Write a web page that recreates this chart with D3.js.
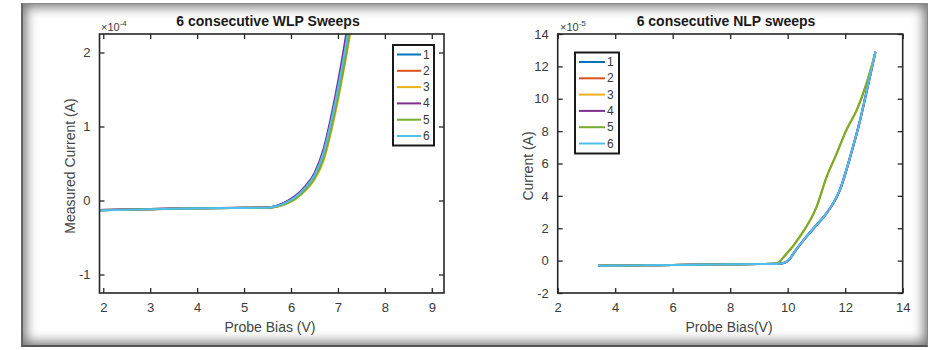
<!DOCTYPE html>
<html><head><meta charset="utf-8">
<script src="https://cdn.jsdelivr.net/npm/d3@7"></script>
<style>
body{margin:0;background:#fff;}
#frame{position:absolute;left:21px;top:3px;width:907px;height:344px;box-shadow:inset 0 0 12px 3px rgba(0,0,0,0.55);border-left:2px solid #666;border-top:1px solid #888;border-bottom:2px solid #555;border-right:1px solid #888;box-sizing:border-box;}
svg{position:absolute;left:0;top:0;}
text{font-family:"Liberation Sans",Arial,sans-serif;}
</style></head><body>
<div id="frame"></div>
<svg id="chart" width="932" height="350"></svg>
<script>
// ---------- DATA ----------
const seriesNames = ["1","2","3","4","5","6"];
const seriesColors = ["#0072BD","#D95319","#EDB120","#7E2F8E","#77AC30","#4DBEEE"];

// WLP sweeps (x in V, y in 1e-4 A)
const wlpX = [1.9, 2.5, 3.0, 3.5, 4.0, 4.5, 5.0, 5.5, 5.7, 5.9, 6.1, 6.3, 6.5, 6.7, 6.9, 7.1, 7.3, 7.5];
const wlp1 = [-0.13, -0.122, -0.116, -0.11, -0.105, -0.102, -0.099, -0.096, -0.072, -0.02, 0.055, 0.175, 0.35, 0.68, 1.22, 1.88, 2.65, 3.4];
const wlp2 = [-0.13, -0.123, -0.117, -0.111, -0.106, -0.102, -0.1, -0.098, -0.08, -0.035, 0.035, 0.15, 0.31, 0.6, 1.12, 1.76, 2.5, 3.3];
const wlp3 = [-0.132, -0.124, -0.118, -0.112, -0.107, -0.103, -0.1, -0.099, -0.085, -0.045, 0.02, 0.13, 0.28, 0.55, 1.05, 1.68, 2.4, 3.2];
const wlp4 = [-0.13, -0.122, -0.116, -0.11, -0.105, -0.101, -0.098, -0.095, -0.07, -0.015, 0.065, 0.19, 0.37, 0.71, 1.27, 1.95, 2.75, 3.5];
const wlp5 = [-0.132, -0.124, -0.118, -0.112, -0.107, -0.103, -0.1, -0.098, -0.082, -0.04, 0.03, 0.14, 0.3, 0.58, 1.1, 1.72, 2.45, 3.25];
const wlp6 = [-0.135, -0.125, -0.118, -0.112, -0.107, -0.103, -0.1, -0.097, -0.075, -0.025, 0.05, 0.17, 0.34, 0.66, 1.2, 1.85, 2.6, 3.4];

// NLP sweeps (x in V, y in 1e-5 A)
const nlpXa = [3.4, 4, 5, 6, 7, 8, 9, 9.6, 9.8, 10.0, 10.3, 10.66, 11.0, 11.36, 11.82, 12.17, 12.52, 12.75, 13.05];
const nlpXb = [3.4, 4, 5, 6, 7, 8, 9, 9.5, 9.65, 9.9, 10.43, 11.0, 11.36, 11.7, 12.05, 12.4, 12.75, 13.04];
const nlp1 = [-0.32, -0.31, -0.29, -0.27, -0.25, -0.23, -0.21, -0.2, -0.17, -0.02, 0.7, 1.5, 2.2, 2.95, 4.4, 6.4, 8.7, 10.5, 12.9];
const nlp2 = [-0.32, -0.31, -0.29, -0.27, -0.25, -0.23, -0.21, -0.2, -0.17, -0.03, 0.68, 1.48, 2.18, 2.93, 4.35, 6.35, 8.65, 10.45, 12.85];
const nlp3 = [-0.32, -0.31, -0.29, -0.27, -0.25, -0.23, -0.21, -0.2, -0.15, 0.3, 1.5, 3.3, 5.2, 6.6, 8.1, 9.3, 11.0, 12.8];
const nlp4 = [-0.32, -0.31, -0.29, -0.27, -0.25, -0.23, -0.21, -0.2, -0.17, -0.02, 0.7, 1.5, 2.2, 2.95, 4.4, 6.4, 8.7, 10.5, 12.9];
const nlp5 = [-0.32, -0.31, -0.29, -0.27, -0.25, -0.23, -0.21, -0.2, -0.15, 0.3, 1.5, 3.3, 5.2, 6.6, 8.1, 9.3, 11.0, 12.8];
const nlp6 = [-0.32, -0.31, -0.29, -0.27, -0.25, -0.23, -0.21, -0.2, -0.17, -0.02, 0.7, 1.5, 2.2, 2.95, 4.4, 6.4, 8.7, 10.5, 12.9];

const wlpXTicks = [2,3,4,5,6,7,8,9];
const wlpYTicks = [-1,0,1,2];
const nlpXTicks = [2,4,6,8,10,12,14];
const nlpYTicks = [-2,0,2,4,6,8,10,12,14];

// ---------- DRAW ----------
const svg = d3.select("#chart");
const axisColor = "#262626";
const textColor = "#3a3a3a";
const fmt = d => String(d);

function panel(cfg){
  const {left,right,top,bottom,xDom,yDom,xTicks,yTicks,series,title,titleX,xLabel,xLabelX,yLabel,yLabelX,yLabelY,expText,expX,legend,id} = cfg;
  const x = d3.scaleLinear().domain(xDom).range([left,right]);
  const y = d3.scaleLinear().domain(yDom).range([bottom,top]);
  const g = svg.append("g");
  g.append("defs").append("clipPath").attr("id",id).append("rect")
    .attr("x",left).attr("y",top).attr("width",right-left).attr("height",bottom-top);
  const line = d3.line().x(d=>x(d[0])).y(d=>y(d[1])).curve(d3.curveMonotoneX);
  const lg = g.append("g").attr("clip-path",`url(#${id})`);
  series.forEach((s,i)=>{
    const pts = s.x.map((v,k)=>[v,s.y[k]]);
    lg.append("path").datum(pts).attr("d",line).attr("fill","none")
      .attr("stroke",seriesColors[i]).attr("stroke-width",2.1).attr("stroke-linejoin","round");
  });
  // axes with inward ticks
  const tl = 5;
  const ax = g.append("g").attr("transform",`translate(0,${bottom})`)
    .call(d3.axisBottom(x).tickValues(xTicks).tickSize(-tl).tickPadding(10).tickFormat(fmt));
  const axT = g.append("g").attr("transform",`translate(0,${top})`)
    .call(d3.axisTop(x).tickValues(xTicks).tickSize(-tl).tickFormat(""));
  const ay = g.append("g").attr("transform",`translate(${left},0)`)
    .call(d3.axisLeft(y).tickValues(yTicks).tickSize(-tl).tickPadding(9).tickFormat(fmt));
  const ayR = g.append("g").attr("transform",`translate(${right},0)`)
    .call(d3.axisRight(y).tickValues(yTicks).tickSize(-tl).tickFormat(""));
  [ax,axT,ay,ayR].forEach(a=>{
    a.select(".domain").remove();
    a.selectAll(".tick line").attr("stroke",axisColor).attr("stroke-width",1.3);
    a.selectAll(".tick text").attr("fill",textColor).style("font-size","13px").style("font-family","'Liberation Sans',Arial,sans-serif");
  });
  g.append("rect").attr("x",left).attr("y",top).attr("width",right-left).attr("height",bottom-top)
    .attr("fill","none").attr("stroke",axisColor).attr("stroke-width",1.6);
  // title
  g.append("text").attr("x",titleX).attr("y",26).attr("text-anchor","middle")
    .style("font-size","14px").style("font-weight","bold").attr("fill","#1a1a1a").text(title);
  g.append("text").attr("x",xLabelX).attr("y",332).attr("text-anchor","middle")
    .style("font-size","14px").attr("fill","#444").text(xLabel);
  g.append("text").attr("transform",`translate(${yLabelX},${yLabelY}) rotate(-90)`).attr("text-anchor","middle")
    .style("font-size","14px").attr("fill","#444").text(yLabel);
  const et = g.append("text").attr("x",expX).attr("y",31).style("font-size","11px").attr("fill",textColor);
  et.append("tspan").text("×10");
  et.append("tspan").attr("dy",-5).style("font-size","8px").text(expText);
  // legend
  const L = legend;
  const lgd = g.append("g");
  lgd.append("rect").attr("x",L.x0).attr("y",L.y0).attr("width",L.x1-L.x0).attr("height",L.y1-L.y0)
    .attr("fill","#fff").attr("stroke","#1a1a1a").attr("stroke-width",2);
  seriesNames.forEach((n,i)=>{
    const yy = L.ey0 + i*L.step;
    lgd.append("line").attr("x1",L.lx0).attr("x2",L.lx1).attr("y1",yy).attr("y2",yy)
      .attr("stroke",seriesColors[i]).attr("stroke-width",2);
    lgd.append("text").attr("x",L.tx).attr("y",yy+4).style("font-size","12px").attr("fill",textColor).text(n);
  });
}

panel({
  id:"clipL", left:99.5, right:444, top:34, bottom:293,
  xDom:[1.92,9.26], yDom:[-1.25,2.25], xTicks:wlpXTicks, yTicks:wlpYTicks,
  series:[{x:wlpX,y:wlp1},{x:wlpX,y:wlp2},{x:wlpX,y:wlp3},{x:wlpX,y:wlp4},{x:wlpX,y:wlp5},{x:wlpX,y:wlp6}],
  title:"6 consecutive WLP Sweeps", titleX:268,
  xLabel:"Probe Bias (V)", xLabelX:270,
  yLabel:"Measured Current (A)", yLabelX:75, yLabelY:166,
  expText:"-4", expX:101,
  legend:{x0:393,x1:434,y0:45,y1:145.5,ey0:54.5,step:16.3,lx0:397,lx1:421,tx:423}
});

panel({
  id:"clipR", left:557.7, right:902.7, top:34, bottom:293,
  xDom:[2,14], yDom:[-2,14], xTicks:nlpXTicks, yTicks:nlpYTicks,
  series:[{x:nlpXa,y:nlp1},{x:nlpXa,y:nlp2},{x:nlpXb,y:nlp3},{x:nlpXa,y:nlp4},{x:nlpXb,y:nlp5},{x:nlpXa,y:nlp6}],
  title:"6 consecutive NLP sweeps", titleX:726,
  xLabel:"Probe Bias(V)", xLabelX:729,
  yLabel:"Current (A)", yLabelX:533, yLabelY:166,
  expText:"-5", expX:560,
  legend:{x0:575,x1:619,y0:52.5,y1:153.5,ey0:62,step:16.3,lx0:579,lx1:605,tx:607}
});
</script>
</body></html>
